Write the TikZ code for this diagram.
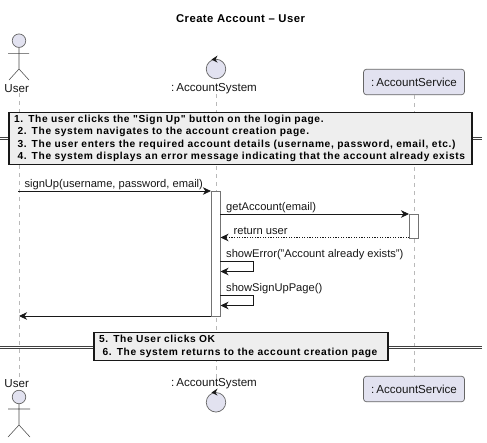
\documentclass[tikz,border=0pt]{standalone}
\usepackage{fontspec}
\setmainfont{Liberation Sans}
\newfontfamily\notefont[LetterSpace=6.4]{Liberation Sans Bold}
\newfontfamily\titlefont[LetterSpace=4.0]{Liberation Sans Bold}
\usetikzlibrary{arrows.meta}
\definecolor{partfill}{HTML}{E2E2F0}
\definecolor{inkline}{HTML}{181818}
\definecolor{notefill}{HTML}{EEEEEE}
\tikzset{
  x=1pt,y=-1pt,
  lbl/.style={inner sep=0pt,font=\fontsize{11.15}{12}\selectfont,text=inkline},
  partlbl/.style={inner sep=0pt,font=\fontsize{11.6}{13}\selectfont,text=inkline},
  msglbl/.style={lbl,anchor=base west},
  lifeline/.style={draw=gray!55,line width=0.9pt,dash pattern=on 4pt off 4pt},
  msg/.style={draw=inkline,line width=0.75pt,-{Stealth[length=8pt,width=7.5pt,inset=2.5pt]}},
  retmsg/.style={msg,dash pattern=on 1.2pt off 1.4pt,line width=0.7pt},
  activation/.style={draw=gray!90!black,line width=0.8pt,fill=white,inner sep=0pt,minimum width=8.8pt},
  headc/.style={circle,draw=gray!80!black,line width=0.7pt,fill=partfill,inner sep=0pt,minimum size=13.5pt},
  ctrlc/.style={circle,draw=gray!80!black,line width=0.7pt,fill=partfill,inner sep=0pt,minimum size=19.5pt},
  limb/.style={draw=gray!60!black,line width=0.55pt},
  svcbox/.style={rectangle,rounded corners=3pt,draw=gray!80!black,line width=0.7pt,fill=partfill,minimum width=101pt,minimum height=25.5pt,inner sep=0pt,partlbl},
  notebox/.style={rectangle,draw=inkline,line width=1.2pt,fill=notefill,inner xsep=5pt,inner ysep=3pt,align=left,font=\notefont\fontsize{10.2}{12.35}\selectfont,text=black},
  dividerline/.style={draw=gray!50!black,line width=0.6pt},
}
\begin{document}
\begin{tikzpicture}
\useasboundingbox (0,0) rectangle (487,442);
\fill[white] (0,0) rectangle (487,442);
\node[inner sep=0pt,font=\titlefont\fontsize{11.3}{13}\selectfont,text=black] (title) at (240.5,19) {Create Account – User};

% participants, top
\node[headc] (uhead) at (19,40.7) {};
\coordinate (uhip) at (19,69);
\coordinate (uarmL) at (8,53.3);
\coordinate (uarmR) at (29,53.3);
\coordinate (ulegL) at (9,80);
\coordinate (ulegR) at (29,80);
\draw[limb] (uhead.south) -- (uhip) (uarmL) -- (uarmR) (ulegL) -- (uhip) -- (ulegR);
\node[partlbl] (ulabel) at (16.7,89) {User};
\node[ctrlc] (ctop) at (216,69) {};
\fill[inkline] (211.5,59.5) -- (217.5,55.5) -- (215.5,59.5) -- (217.5,62.5) -- cycle;
\node[partlbl] (clabel) at (214,89) {:\hspace{2pt}AccountSystem};
\node[svcbox] (stop) at (414,82) {:\hspace{2pt}AccountService};

% participants, bottom
\node[headc] (ubhead) at (19,397) {};
\coordinate (ubhip) at (19,425);
\coordinate (ubarmL) at (8,409);
\coordinate (ubarmR) at (30,409);
\coordinate (ublegL) at (8,437);
\coordinate (ublegR) at (30,437);
\draw[limb] (ubhead.south) -- (ubhip) (ubarmL) -- (ubarmR) (ublegL) -- (ubhip) -- (ublegR);
\node[partlbl] (ublabel) at (16.7,384) {User};
\node[ctrlc] (cbot) at (216,402.3) {};
\fill[inkline] (211.5,392.5) -- (217.5,388.5) -- (215.5,392.5) -- (217.5,395.5) -- cycle;
\node[partlbl] (cblabel) at (214,384) {:\hspace{2pt}AccountSystem};
\node[svcbox] (sbot) at (414,389) {:\hspace{2pt}AccountService};

% lifelines
\draw[lifeline] (ulabel.south -| uhead) -- (ublabel.north -| uhead);
\draw[lifeline] (clabel.south -| ctop) -- (cblabel.north -| ctop);
\draw[lifeline] (stop.south) -- (sbot.north);

% activations
\node[activation,minimum height=125pt] (actc) at (215.7,253.5) {};
\node[activation,minimum height=24pt] (acts) at (413.8,226) {};

% messages
\coordinate (u1) at (18,191);
\draw[msg] (u1) -- (u1 -| actc.west);
\node[msglbl] (m1) at (24.3,187) {signUp(username, password, email)};

\coordinate (c2) at (220.1,214);
\draw[msg] (c2) -- (c2 -| acts.west);
\node[msglbl] (m2) at (226,210) {getAccount(email)};

\coordinate (s3) at (409.4,237.5);
\draw[retmsg] (s3) -- (s3 -| actc.east);
\node[msglbl] (m3) at (233.5,234) {return user};

\coordinate (c4a) at (220.1,261);
\coordinate (c4b) at (253.5,261);
\coordinate (c4c) at (253.5,271.5);
\draw[msg] (c4a) -- (c4b) -- (c4c) -- (c4c -| actc.east);
\node[msglbl] (m4) at (226,257) {showError("Account already exists")};

\coordinate (c5a) at (220.1,295);
\coordinate (c5b) at (253.5,295);
\coordinate (c5c) at (253.5,305.5);
\draw[msg] (c5a) -- (c5b) -- (c5c) -- (c5c -| actc.east);
\node[msglbl] (m5) at (226,291) {showSignUpPage()};

\coordinate (u6) at (19,316);
\draw[msg] (u6 -| actc.west) -- (u6);

% dividers and notes
\coordinate (d1L) at (0,137.2);
\coordinate (d1R) at (482,137.2);
\coordinate (d1Lb) at (0,139.4);
\coordinate (d1Rb) at (482,139.4);
\draw[dividerline] (d1L) -- (d1R) (d1Lb) -- (d1Rb);
\node[notebox,text width=453pt] (note1) at (240.5,138.5) {1. The user clicks the "Sign Up" button on the login page.\\
\hspace*{3.5pt}2. The system navigates to the account creation page.\\
\hspace*{3.5pt}3. The user enters the required account details (username, password, email, etc.)\\
\hspace*{3.5pt}4. The system displays an error message indicating that the account already exists};

\coordinate (d2L) at (0,346);
\coordinate (d2R) at (482,346);
\coordinate (d2Lb) at (0,348.2);
\coordinate (d2Rb) at (482,348.2);
\draw[dividerline] (d2L) -- (d2R) (d2Lb) -- (d2Rb);
\node[notebox,text width=284pt] (note2) at (241,346.5) {5. The User clicks OK\\
\hspace*{3.5pt}6. The system returns to the account creation page};
\end{tikzpicture}
\end{document}
